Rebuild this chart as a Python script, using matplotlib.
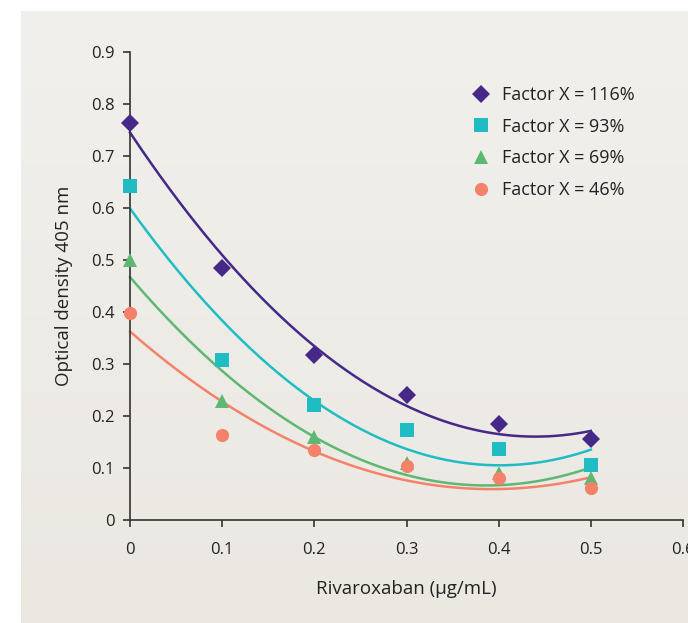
import numpy as np
import matplotlib
matplotlib.use("Agg")
import matplotlib.pyplot as plt
from matplotlib.lines import Line2D
from matplotlib.colors import LinearSegmentedColormap

plt.rcParams['font.family'] = ['Open Sans', 'DejaVu Sans']

x = [0, 0.1, 0.2, 0.3, 0.4, 0.5]
labels = ["Factor X = 116%", "Factor X = 93%", "Factor X = 69%", "Factor X = 46%"]
y116 = [0.763, 0.485, 0.317, 0.240, 0.185, 0.155]
y93 = [0.643, 0.308, 0.222, 0.173, 0.137, 0.106]
y69 = [0.500, 0.228, 0.160, 0.110, 0.090, 0.080]
y46 = [0.398, 0.163, 0.134, 0.103, 0.081, 0.061]
series = [y116, y93, y69, y46]
colors = ["#452887", "#1fbdc3", "#5db872", "#f4826b"]
markers = ["D", "s", "^", "o"]
msizes = [9.5, 10, 10.5, 9.5]

fig = plt.figure(figsize=(6.88, 6.23), dpi=100)
fig.patch.set_facecolor("white")

# background panel with subtle vertical gradient
bg = fig.add_axes([21/688, 0, 1 - 21/688, (623-11)/623], zorder=-10)
grad = np.linspace(0, 1, 256).reshape(-1, 1)
cmap = LinearSegmentedColormap.from_list("bg", ["#f1f0ec", "#ebe8e2"])
bg.imshow(grad, aspect="auto", cmap=cmap, extent=[0, 1, 0, 1], origin="upper")
bg.set_axis_off()

ax = fig.add_axes([130/688, (623-520)/623, (683-130)/688, (520-52)/623])
ax.set_facecolor("none")

xf = np.linspace(0, 0.5, 200)
for ys, c in zip(series, colors):
    coef = np.polyfit(x, ys, 2)
    ax.plot(xf, np.polyval(coef, xf), color=c, lw=1.8, zorder=2, clip_on=False)
for ys, c, m, ms, lab in zip(series, colors, markers, msizes, labels):
    ax.plot(x, ys, linestyle="none", marker=m, color=c, markersize=ms,
            markeredgewidth=0, zorder=3, clip_on=False, label=lab)

ax.set_xlim(0, 0.6)
ax.set_ylim(0, 0.9)
ax.set_xticks([0, 0.1, 0.2, 0.3, 0.4, 0.5, 0.6])
ax.set_xticklabels(["0", "0.1", "0.2", "0.3", "0.4", "0.5", "0.6"])
ax.set_yticks(np.arange(0, 0.91, 0.1))
ax.set_yticklabels(["0", "0.1", "0.2", "0.3", "0.4", "0.5", "0.6", "0.7", "0.8", "0.9"])
for s in ["top", "right"]:
    ax.spines[s].set_visible(False)
for s in ["left", "bottom"]:
    ax.spines[s].set_color("#333333")
    ax.spines[s].set_linewidth(1.2)
ax.tick_params(axis="both", direction="out", length=5, width=1.2, color="#333333",
               labelsize=12, labelcolor="#222222")
ax.tick_params(axis="x", pad=11)
ax.tick_params(axis="y", pad=6)

ax.set_xlabel("Rivaroxaban (μg/mL)", fontsize=13.5, color="#222222", labelpad=16)
ax.set_ylabel("Optical density 405 nm", fontsize=13.5, color="#222222", labelpad=13)

handles = [Line2D([], [], linestyle="none", marker=m, color=c, markersize=ms, markeredgewidth=0)
           for c, m, ms in zip(colors, markers, msizes)]
leg = ax.legend(handles, labels, loc="upper left", bbox_to_anchor=(340/553, 1 - (86-52)/468),
                frameon=False, fontsize=13, handletextpad=0.6, labelspacing=0.76,
                handlelength=1.2, borderaxespad=0, borderpad=0)
for t in leg.get_texts():
    t.set_color("#222222")

fig.savefig("out.png", dpi=100)
